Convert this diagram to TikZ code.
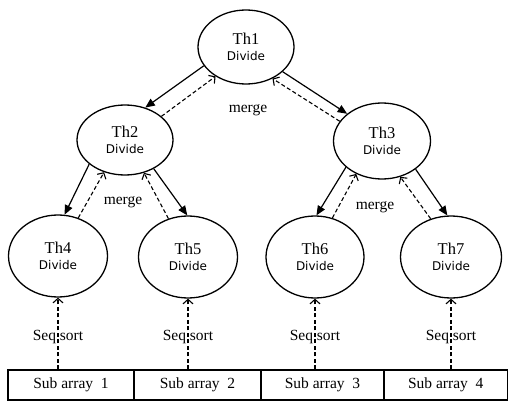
\documentclass[tikz,border=0pt]{standalone}
\usepackage{fontspec}
\setmainfont{Liberation Serif}
\newfontfamily\divfont{DejaVu Sans}
\usetikzlibrary{arrows.meta,shapes.geometric}

\begin{document}
\begin{tikzpicture}[x=1pt,y=-1pt,
  thread/.style={ellipse, draw, line width=1.3pt, inner sep=0pt, align=center,
    font=\fontsize{16.5}{17}\selectfont},
  subarray/.style={rectangle, draw, line width=1.1pt, minimum height=30pt, inner sep=0pt,
    font=\fontsize{15.5}{17}\selectfont},
  lbl/.style={inner sep=0pt, font=\fontsize{15.5}{17}\selectfont},
  divarrow/.style={line width=1.2pt, -{Triangle[length=9.5pt,width=8pt]}},
  mergearrow/.style={line width=1.1pt, dash pattern=on 4pt off 2.5pt,
    -{Straight Barb[length=4.5pt,width=10pt,line width=1.1pt]}}
]
\useasboundingbox (0,0) rectangle (508,401);
\newcommand{\dv}{{\divfont\fontsize{12}{13}\selectfont Divide}}

% thread nodes
\node[thread, minimum width=96pt, minimum height=74pt] (th1) at (246,47) {Th1\\[-1pt]\dv};
\node[thread, minimum width=96pt, minimum height=70pt] (th2) at (125,140) {Th2\\[-1pt]\dv};
\node[thread, minimum width=97pt, minimum height=76pt] (th3) at (382,141) {Th3\\[-1pt]\dv};
\node[thread, minimum width=99pt, minimum height=82pt] (th4) at (58,256) {Th4\\[-1pt]\dv};
\node[thread, minimum width=99pt, minimum height=82pt] (th5) at (188,257) {Th5\\[-1pt]\dv};
\node[thread, minimum width=98pt, minimum height=82pt] (th6) at (315,257) {Th6\\[-1pt]\dv};
\node[thread, minimum width=101pt, minimum height=82pt] (th7) at (451,257) {Th7\\[-1pt]\dv};

% sub-array row
\node[subarray, minimum width=126pt] (sa1) at (71,385) {Sub array\enspace 1};
\node[subarray, minimum width=127pt] (sa2) at (197.5,385) {Sub array\enspace 2};
\node[subarray, minimum width=123pt] (sa3) at (322.5,385) {Sub array\enspace 3};
\node[subarray, minimum width=123.5pt] (sa4) at (445.75,385) {Sub array\enspace 4};

% divide (solid) and merge (dashed) connectors
\draw[divarrow] (th1.204) -- (th2.58);
\draw[mergearrow] (th2.33) -- (th1.224);
\draw[divarrow] (th1.326) -- (th3.142);
\draw[mergearrow] (th3.155) -- (th1.310);

\draw[divarrow] (th2.214) -- (th4.81);
\draw[mergearrow] (th4.62) -- (th2.237);
\draw[divarrow] (th2.315) -- (th5.91);
\draw[mergearrow] (th5.117) -- (th2.300);

\draw[divarrow] (th3.216) -- (th6.88);
\draw[mergearrow] (th6.66) -- (th3.232);
\draw[divarrow] (th3.320) -- (th7.95);
\draw[mergearrow] (th7.118) -- (th3.297);

% merge labels
\node[lbl] (m1) at (248,110) {merge};
\node[lbl] (m2) at (123,202) {merge};
\node[lbl] (m3) at (375,207) {merge};

% sequential sort arrows
\draw[mergearrow] (th4.south |- sa1.north) -- (th4.south);
\draw[mergearrow] (th5.south |- sa2.north) -- (th5.south);
\draw[mergearrow] (th6.south |- sa3.north) -- (th6.south);
\draw[mergearrow] (th7.south |- sa4.north) -- (th7.south);
\node[lbl] (s1) at (58,337) {Seq sort};
\node[lbl] (s2) at (188,337) {Seq sort};
\node[lbl] (s3) at (315,337) {Seq sort};
\node[lbl] (s4) at (451,337) {Seq sort};
\end{tikzpicture}
\end{document}
